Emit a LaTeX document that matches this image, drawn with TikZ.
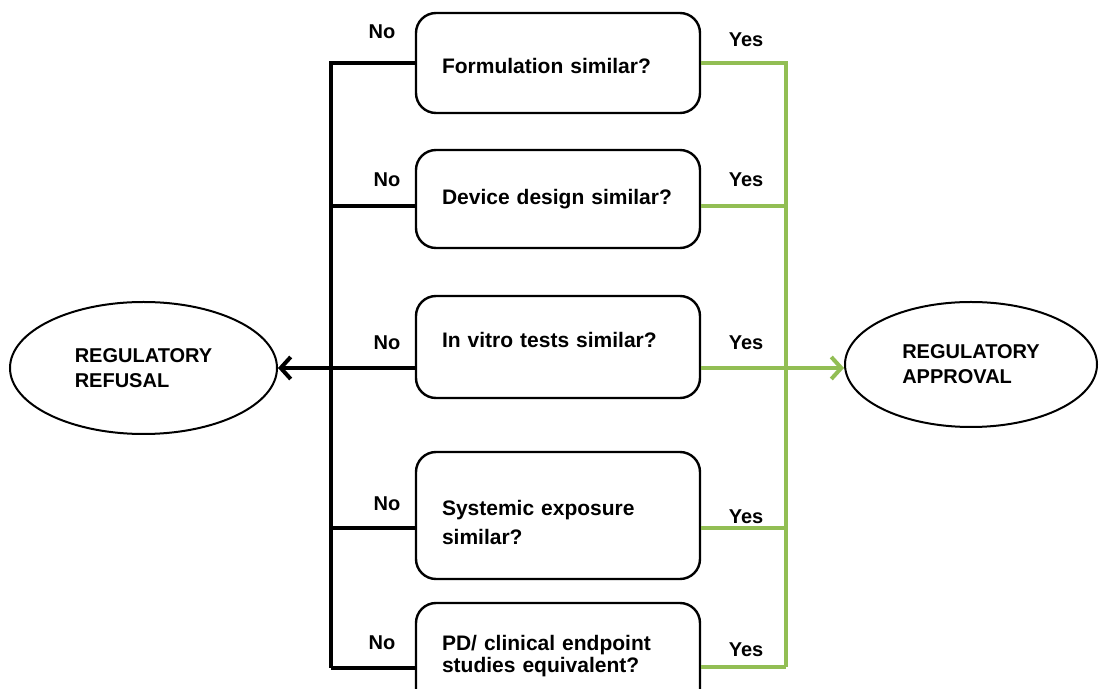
\documentclass[tikz,border=0pt]{standalone}
\usepackage{fontspec}
\setmainfont{Liberation Sans}
\usepackage{tikz}
\usetikzlibrary{positioning}
\usetikzlibrary{shapes.geometric,arrows.meta}
\definecolor{yesgreen}{RGB}{146,190,84}

\begin{document}
\begin{tikzpicture}
                [x=0.5pt, y=-0.5pt, font=\bfseries\fontsize{10}{12}\selectfont,
                 box/.style = {draw, line width=1.2pt, rounded corners=10pt, minimum width=142pt, text width=116pt, inner xsep=13pt, align=left, font=\bfseries\fontsize{10.5}{13}\selectfont},
                 oval/.style = {draw, line width=1pt, ellipse, inner sep=0pt, align=left},
                 nol/.style = {line width=2pt, black},
                 yesl/.style = {line width=2pt, yesgreen}]
                \clip (0,0) rectangle (1099,689);
                % Questions
                \node[box, minimum height=50pt] (form) at (558,63) {\rule{0pt}{10.5pt}Formulation similar?};
                \node[box, minimum height=49pt] (dev) at (558,199) {Device design similar?};
                \node[box, minimum height=51pt] (vitro) at (558,347) {In vitro tests similar?\rule[-7pt]{0pt}{0pt}};
                \node[box, minimum height=63.5pt] (sys) at (558,515.5) {\rule{0pt}{14.5pt}Systemic exposure\\[1.5pt] similar?};
                \node[box, minimum height=53pt] (pd) at (558,656) {PD/ clinical endpoint\\[-2pt] studies equivalent?};
                % Outcomes
                \node[oval, minimum width=133.5pt, minimum height=66pt] (refusal) at (143.5,368) {REGULATORY\\[0.5pt] REFUSAL};
                \node[oval, minimum width=126pt, minimum height=62.5pt] (approval) at (971,364.5) {REGULATORY\\[0.5pt] APPROVAL};
                % Bus ends
                \coordinate (lbot) at (331,668);
                \coordinate (rbot) at (786,667);
                \coordinate (vno) at ([yshift=-10.5pt]vitro.west);
                \coordinate (vyes) at ([yshift=-10.5pt]vitro.east);
                % No lines
                \draw[nol] (form.west) -| (lbot);
                \draw[nol] ([yshift=-3.5pt]dev.west) -| (lbot);
                \draw[nol] ([yshift=-6.5pt]sys.west) -| (lbot);
                \draw[nol] ([yshift=-6pt]pd.west) -| (lbot);
                \draw[nol, -{Straight Barb[length=5pt, width=11pt]}] (vno) -- (vno -| refusal.east);
                % Yes lines
                \draw[yesl] (form.east) -| (rbot);
                \draw[yesl] ([yshift=-3.5pt]dev.east) -| (rbot);
                \draw[yesl] ([yshift=-6.5pt]sys.east) -| (rbot);
                \draw[yesl] ([yshift=-5.5pt]pd.east) -| (rbot);
                \draw[yesl, -{Straight Barb[length=5pt, width=11pt]}] (vyes) -- (vyes -| approval.west);
                % Labels
                \node (no1) at (382,32) {No};
                \node (no2) at (387,180) {No};
                \node (no3) at (387,343) {No};
                \node (no4) at (387,504) {No};
                \node (no5) at (382,643) {No};
                \node (yes1) at (746,40) {Yes};
                \node (yes2) at (746,180) {Yes};
                \node (yes3) at (746,343) {Yes};
                \node (yes4) at (746,517) {Yes};
                \node (yes5) at (746,650) {Yes};
            \end{tikzpicture}
\end{document}
